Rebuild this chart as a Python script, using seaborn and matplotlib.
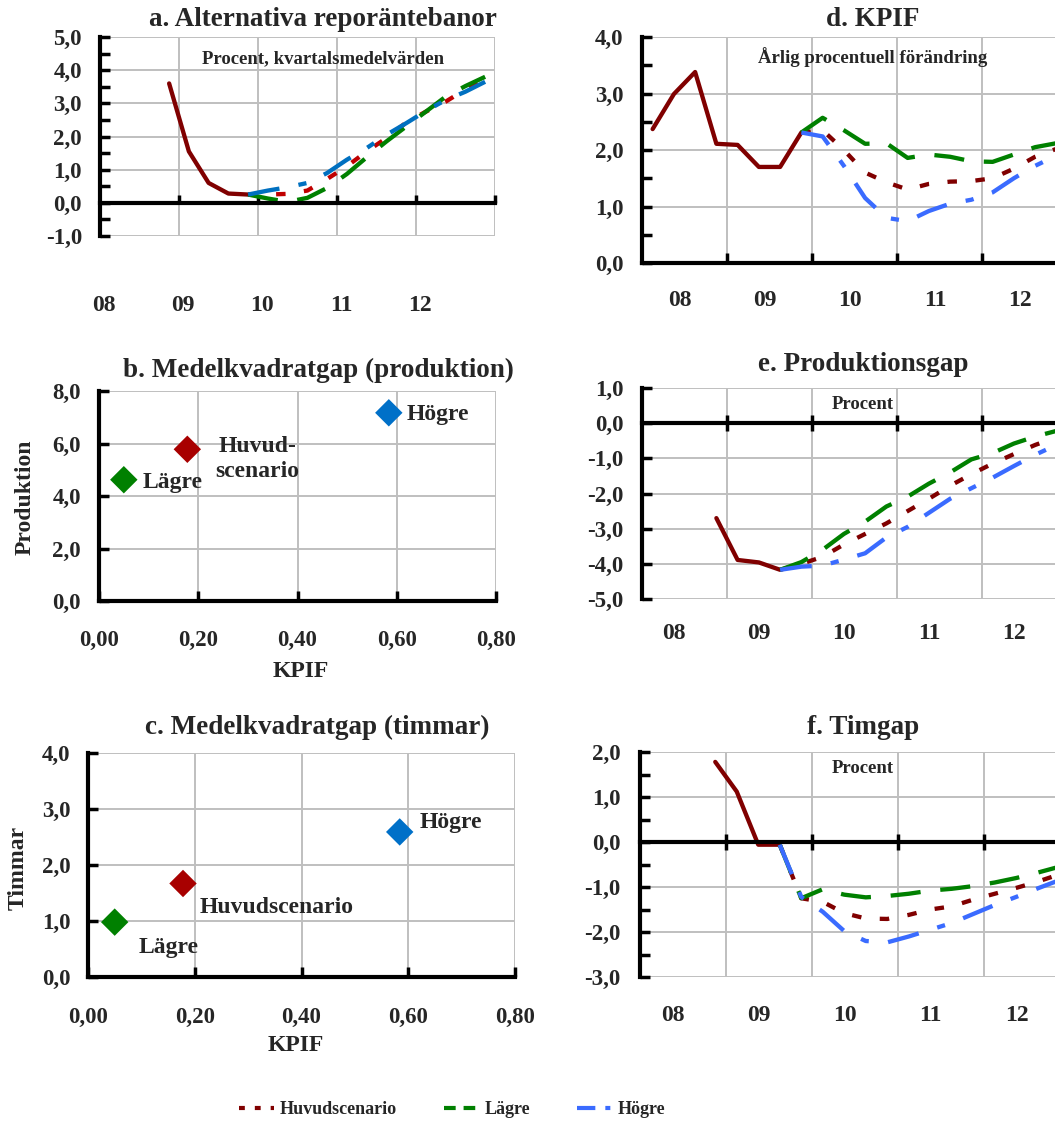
import matplotlib.pyplot as plt
import seaborn as sns
from matplotlib.lines import Line2D
from matplotlib.ticker import FuncFormatter, MultipleLocator

sns.set_theme(style='white')
plt.rcParams['font.family'] = ['Liberation Serif', 'DejaVu Serif']
plt.rcParams['font.weight'] = 'bold'

# =============================================================================
# Data
# =============================================================================

ar = [2008, 2009, 2010, 2011, 2012]
ar_etikett = ['08', '09', '10', '11', '12']

kvartal = ['2008Q1', '2008Q2', '2008Q3', '2008Q4',
           '2009Q1', '2009Q2', '2009Q3', '2009Q4',
           '2010Q1', '2010Q2', '2010Q3', '2010Q4',
           '2011Q1', '2011Q2', '2011Q3', '2011Q4',
           '2012Q1', '2012Q2', '2012Q3', '2012Q4']

# a. Alternativa reporäntebanor
repo_utfall_kv = kvartal[3:8]
repo_utfall = [3.6, 1.55, 0.6, 0.28, 0.25]
repo_prog_kv = kvartal[7:20]
repo_huvud = [0.25, 0.25, 0.27, 0.37, 0.72, 1.1, 1.55, 1.95, 2.42, 2.75, 3.05, 3.42, 3.76]
repo_lagre = [0.25, 0.13, 0.03, 0.15, 0.45, 0.87, 1.37, 1.85, 2.3, 2.75, 3.2, 3.52, 3.8]
repo_hogre = [0.25, 0.37, 0.47, 0.6, 0.9, 1.3, 1.65, 2.05, 2.4, 2.77, 3.1, 3.35, 3.65]

# d. KPIF
kpif_utfall_kv = kvartal[0:8]
kpif_utfall = [2.37, 2.99, 3.38, 2.11, 2.09, 1.70, 1.70, 2.31]
kpif_prog_kv = kvartal[7:20]
kpif_huvud = [2.31, 2.35, 2.0, 1.6, 1.43, 1.3, 1.4, 1.44, 1.45, 1.5, 1.67, 1.88, 2.02]
kpif_lagre = [2.31, 2.57, 2.35, 2.11, 2.12, 1.86, 1.92, 1.88, 1.8, 1.79, 1.92, 2.05, 2.12]
kpif_hogre = [2.31, 2.24, 1.72, 1.15, 0.8, 0.74, 0.92, 1.05, 1.12, 1.25, 1.5, 1.72, 1.9]

# e. Produktionsgap
gap_utfall_kv = kvartal[3:7]
gap_utfall = [-2.7, -3.89, -3.96, -4.17]
gap_prog_kv = kvartal[6:20]
gap_huvud = [-4.17, -4.0, -3.8, -3.45, -3.15, -2.85, -2.5, -2.15, -1.78, -1.45, -1.15, -0.88, -0.62, -0.4]
gap_lagre = [-4.17, -3.95, -3.6, -3.15, -2.8, -2.37, -2.09, -1.72, -1.4, -1.03, -0.85, -0.58, -0.38, -0.22]
gap_hogre = [-4.17, -4.08, -4.05, -3.88, -3.7, -3.25, -2.95, -2.55, -2.15, -1.85, -1.55, -1.22, -0.9, -0.62]

# f. Timgap
tim_utfall_kv = kvartal[3:7]
tim_utfall = [1.78, 1.12, -0.06, -0.06]
tim_prog_kv = kvartal[6:20]
tim_huvud = [-0.06, -1.25, -1.33, -1.58, -1.7, -1.71, -1.62, -1.5, -1.43, -1.28, -1.15, -1.02, -0.88, -0.72]
tim_lagre = [-0.06, -1.25, -1.05, -1.17, -1.23, -1.2, -1.15, -1.08, -1.04, -0.98, -0.9, -0.8, -0.68, -0.55]
tim_hogre = [-0.06, -1.22, -1.55, -1.98, -2.2, -2.23, -2.1, -1.95, -1.8, -1.6, -1.4, -1.22, -1.03, -0.85]

# b./c. Medelkvadratgap
scenario = ['Huvudscenario', 'Lägre', 'Högre']
mkg_kpif = [0.178, 0.050, 0.584]
mkg_produktion = [5.78, 4.62, 7.17]
mkg_timmar = [1.67, 0.98, 2.59]

# =============================================================================
# Styles
# =============================================================================

W, H = 1055, 1124
GRID = '#BFBFBF'
RED_OUT = '#800000'
TITLE, SUB, YT, XT, ANN, AXL, LEG = 19.5, 13.5, 16.5, 17, 17, 17, 13
LW = 3.1

stil_huvud = dict(linestyle=(0, (2.2, 4.3)), lw=LW)
stil_lagre = dict(linestyle=(0, (7, 4.6)), lw=LW, color='#008000')
stil_hogre = dict(linestyle=(0, (7.4, 4.5, 1.9, 4.5)), lw=LW)

fig = plt.figure(figsize=(W / 100, H / 100), dpi=100)


def box(l, t, r, b):
    return fig.add_axes([l / W, 1 - b / H, (r - l) / W, (b - t) / H])


def ftext(x, y, s, size, **kw):
    fig.text(x / W, 1 - y / H, s, fontsize=size, fontweight='bold', **kw)


def komma(dec):
    return FuncFormatter(lambda v, p: f'{v:.{dec}f}'.replace('.', ','))


def kvpos(labels):
    return [int(s[:4]) + (int(s[-1]) - 0.5) / 4 for s in labels]


def line_panel(ax, ylim, ystep, yminor, xdir, xlen, lab_off, lab_pad, ypad):
    ax.set_xlim(2008, 2013)
    ax.set_ylim(*ylim)
    ax.set_xticks([a + 1 for a in ar])
    ax.yaxis.set_major_locator(MultipleLocator(ystep))
    if yminor:
        ax.yaxis.set_minor_locator(MultipleLocator(yminor))
    ax.yaxis.set_major_formatter(komma(1))
    ax.grid(True, which='major', color=GRID, lw=1.4)
    ax.set_axisbelow(True)
    for s in ['top', 'right']:
        ax.spines[s].set_visible(False)
    ax.spines['left'].set_color('black')
    ax.spines['left'].set_linewidth(3)
    ax.spines['bottom'].set_color('black')
    ax.spines['bottom'].set_linewidth(3)
    ax.spines['bottom'].set_position(('data', 0))
    ax.spines['bottom'].set_zorder(2.5)
    ax.tick_params(axis='x', which='major', bottom=True, direction=xdir,
                   length=xlen, width=2.5, color='black', labelbottom=False)
    ax.tick_params(axis='y', which='both', left=True, direction='in',
                   length=7, width=2.5, color='black', pad=ypad, labelsize=YT)
    sec = ax.secondary_xaxis('bottom')
    sec.set_xticks([a + lab_off for a in ar], ar_etikett)
    sec.tick_params(length=0, pad=lab_pad, labelsize=XT)
    for s in sec.spines.values():
        s.set_visible(False)


def draw_lines(ax, ut_kv, ut, pr_kv, huvud, lagre, hogre, red, blue):
    sns.lineplot(x=kvpos(ut_kv), y=ut, ax=ax, color=RED_OUT, lw=LW,
                 estimator=None, legend=False)
    sns.lineplot(x=kvpos(pr_kv), y=huvud, ax=ax, color=red, estimator=None,
                 legend=False, **stil_huvud)
    sns.lineplot(x=kvpos(pr_kv), y=lagre, ax=ax, estimator=None,
                 legend=False, **stil_lagre)
    sns.lineplot(x=kvpos(pr_kv), y=hogre, ax=ax, color=blue, estimator=None,
                 legend=False, **stil_hogre)


# =============================================================================
# a. Alternativa reporäntebanor
# =============================================================================
ax_a = box(100, 37, 495, 236)
draw_lines(ax_a, repo_utfall_kv, repo_utfall, repo_prog_kv,
           repo_huvud, repo_lagre, repo_hogre, '#C00000', '#0070C0')
line_panel(ax_a, (-1, 5), 1, 0.5, 'in', 6, 0.05, 42.5, 13)
ftext(323, 26, 'a. Alternativa reporäntebanor', TITLE, ha='center', va='baseline')
ftext(323, 63, 'Procent, kvartalsmedelvärden', SUB, ha='center', va='baseline')

# =============================================================================
# d. KPIF
# =============================================================================
ax_d = box(642, 37, 1067, 263)
draw_lines(ax_d, kpif_utfall_kv, kpif_utfall, kpif_prog_kv,
           kpif_huvud, kpif_lagre, kpif_hogre, RED_OUT, '#3A6BFF')
line_panel(ax_d, (0, 4), 1, 0.5, 'in', 7, 0.45, 19.5, 13.5)
ftext(873, 26, 'd. KPIF', TITLE, ha='center', va='baseline')
ftext(873, 63, 'Årlig procentuell förändring', SUB, ha='center', va='baseline')

# =============================================================================
# e. Produktionsgap
# =============================================================================
ax_e = box(642, 388, 1067, 599)
draw_lines(ax_e, gap_utfall_kv, gap_utfall, gap_prog_kv,
           gap_huvud, gap_lagre, gap_hogre, RED_OUT, '#3A6BFF')
line_panel(ax_e, (-5, 1), 1, None, 'inout', 11, 0.38, 17.6, 13.5)
ftext(863, 371, 'e. Produktionsgap', TITLE, ha='center', va='baseline')
ftext(863, 409, 'Procent', SUB, ha='center', va='baseline')

# =============================================================================
# f. Timgap
# =============================================================================
ax_f = box(640, 752, 1070, 977)
draw_lines(ax_f, tim_utfall_kv, tim_utfall, tim_prog_kv,
           tim_huvud, tim_lagre, tim_hogre, RED_OUT, '#3A6BFF')
line_panel(ax_f, (-3, 2), 1, 0.5, 'inout', 11, 0.38, 20.3, 14)
ftext(863, 734, 'f. Timgap', TITLE, ha='center', va='baseline')
ftext(863, 773, 'Procent', SUB, ha='center', va='baseline')

# =============================================================================
# b./c. Medelkvadratgap
# =============================================================================
farg = {'Huvudscenario': '#A80000', 'Lägre': '#008000', 'Högre': '#0070C8'}


def scatter_panel(ax, y, ymax, ystep, etiketter, xpad, ypad):
    sns.scatterplot(x=mkg_kpif, y=y, hue=scenario, palette=farg, marker='D',
                    s=195, linewidth=0, legend=False, ax=ax, zorder=3)
    ax.set_xlim(0, 0.8)
    ax.set_ylim(0, ymax)
    ax.xaxis.set_major_locator(MultipleLocator(0.2))
    ax.yaxis.set_major_locator(MultipleLocator(ystep))
    ax.xaxis.set_major_formatter(komma(2))
    ax.yaxis.set_major_formatter(komma(1))
    ax.grid(True, color=GRID, lw=1.4)
    ax.set_axisbelow(True)
    for s in ['top', 'right']:
        ax.spines[s].set_visible(False)
    for s in ['left', 'bottom']:
        ax.spines[s].set_color('black')
        ax.spines[s].set_linewidth(3)
    ax.tick_params(axis='x', bottom=True, direction='in', length=7, width=2.5,
                   color='black', pad=xpad, labelsize=XT - 0.5)
    ax.tick_params(axis='y', left=True, direction='in', length=7, width=2.5,
                   color='black', pad=ypad, labelsize=YT)
    for namn, (dx, dy, ha) in etiketter.items():
        i = scenario.index(namn)
        text = 'Huvud-\nscenario' if (namn == 'Huvudscenario' and ha == 'center') else namn
        ax.annotate(text, (mkg_kpif[i], y[i]), xytext=(dx, dy),
                    textcoords='offset points', ha=ha, va='baseline',
                    fontsize=ANN, fontweight='bold', linespacing=1.25,
                    multialignment='center')


ax_b = box(99, 391, 496, 601)
scatter_panel(ax_b, mkg_produktion, 8, 2,
              {'Lägre': (13.7, -6.2, 'left'),
               'Huvudscenario': (50.2, -19.9, 'center'),
               'Högre': (13, -5.2, 'left')}, 20.9, 13)
ftext(318, 377, 'b. Medelkvadratgap (produktion)', TITLE, ha='center', va='baseline')
ftext(25, 497, 'Produktion', AXL, ha='center', va='center', rotation=90)
ftext(301, 677, 'KPIF', AXL, ha='center', va='baseline')

ax_c = box(88, 753, 515, 977)
scatter_panel(ax_c, mkg_timmar, 4, 1,
              {'Lägre': (17.3, -22.3, 'left'),
               'Huvudscenario': (12.2, -21.5, 'left'),
               'Högre': (14.1, 3.1, 'left')}, 21.6, 12.5)
ftext(317, 734, 'c. Medelkvadratgap (timmar)', TITLE, ha='center', va='baseline')
ftext(18, 868, 'Timmar', AXL, ha='center', va='center', rotation=90)
ftext(296, 1051, 'KPIF', AXL, ha='center', va='baseline')

# =============================================================================
# Legend
# =============================================================================
handles = [
    Line2D([], [], color=RED_OUT, lw=3, linestyle=(0, (1.4, 2.4))),
    Line2D([], [], color='#008000', lw=3, linestyle=(0, (2.8, 1.9))),
    Line2D([], [], color='#3A6BFF', lw=3, linestyle=(0, (4.4, 2.4, 1.2, 2.4))),
]
fig.legend(handles, scenario, loc='center', bbox_to_anchor=(452 / W, 1 - 1110 / H),
           ncol=3, frameon=False, handlelength=1.95,
           handletextpad=0.3, columnspacing=2.6, prop={'weight': 'bold', 'size': LEG})

plt.savefig('out.png', dpi=100)
